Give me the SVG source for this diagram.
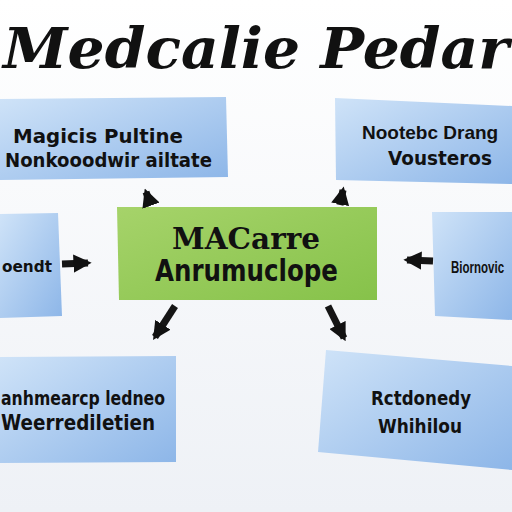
<svg xmlns="http://www.w3.org/2000/svg" width="512" height="512" viewBox="0 0 512 512">
<defs>
<linearGradient id="bg" x1="0" y1="0" x2="0" y2="1"><stop offset="0" stop-color="#ffffff"/><stop offset="1" stop-color="#eef1f6"/></linearGradient>
<linearGradient id="blue" x1="0" y1="0" x2="1" y2="1"><stop offset="0" stop-color="#cfe3f8"/><stop offset="1" stop-color="#8db6e8"/></linearGradient>
<linearGradient id="green" x1="0" y1="0" x2="1" y2="1"><stop offset="0" stop-color="#a6d36a"/><stop offset="1" stop-color="#86c24a"/></linearGradient>
<marker id="ah" viewBox="0 0 10 10" refX="8" refY="5" markerWidth="2.6" markerHeight="2.6" orient="auto" markerUnits="strokeWidth"><path d="M0,0 L10,5 L0,10 z" fill="#111"/></marker>
<style>
.box{fill:url(#blue);}
.t{font-family:"DejaVu Sans","Liberation Sans",sans-serif;font-weight:bold;fill:#111;}
.l{font-family:"Liberation Sans",Arial,sans-serif;font-weight:bold;fill:#111;}
.a{stroke:#151515;stroke-width:7;fill:none;marker-end:url(#ah);stroke-linecap:butt;}
</style>
</defs>
<rect width="512" height="512" fill="url(#bg)"/>
<text x="3" y="68" font-family="DejaVu Serif" font-style="italic" font-weight="bold" font-size="56" fill="#111" textLength="506" lengthAdjust="spacingAndGlyphs">Medcalie Pedar</text>
<g id="n-topleft"><polygon class="box" points="0,99 226,97 228,177 0,180"/>
<text class="t" x="13" y="143" font-size="20" textLength="170" lengthAdjust="spacingAndGlyphs">Magicis Pultine</text>
<text class="t" x="5" y="167" font-size="20" textLength="207" lengthAdjust="spacingAndGlyphs">Nonkooodwir ailtate</text></g>
<g id="n-topright"><polygon class="box" points="335,98 512,106 512,184 336,180"/>
<text class="l" x="362" y="139" font-size="19">Nootebc Drang</text>
<text class="t" x="388" y="165" font-size="20" textLength="104" lengthAdjust="spacingAndGlyphs">Vousteros</text></g>
<g id="n-center"><polygon points="117,207 377,207 377,300 119,300" fill="url(#green)"/>
<text x="172" y="249" font-family="DejaVu Serif" font-weight="bold" font-size="30" fill="#111" textLength="148" lengthAdjust="spacingAndGlyphs">MACarre</text>
<text class="t" x="155" y="281" font-size="30" textLength="183" lengthAdjust="spacingAndGlyphs">Anrumuclope</text></g>
<g id="n-left"><polygon class="box" points="0,214 58,213 62,316 0,318"/>
<text class="t" x="2" y="272" font-size="16" textLength="50" lengthAdjust="spacingAndGlyphs">oendt</text></g>
<g id="n-right"><polygon class="box" points="432,212 512,212 512,320 435,316"/>
<text class="l" transform="translate(451,273) scale(0.72,1)" font-size="16">Biornovic</text></g>
<g id="n-botleft"><polygon class="box" points="0,357 176,356 176,462 0,463"/>
<text class="t" x="1" y="405" font-size="20" textLength="164" lengthAdjust="spacingAndGlyphs">anhmearcp ledneo</text>
<text class="t" x="1" y="430" font-size="22" textLength="154" lengthAdjust="spacingAndGlyphs">Weerrediletien</text></g>
<g id="n-botright"><polygon class="box" points="326,350 512,366 512,470 318,452"/>
<text class="t" x="371" y="405" font-size="20" textLength="100" lengthAdjust="spacingAndGlyphs">Rctdonedy</text>
<text class="t" x="378" y="433" font-size="20" textLength="84" lengthAdjust="spacingAndGlyphs">Whihilou</text></g>
<g id="connectors">
<line class="a" x1="150" y1="203" x2="146" y2="192"/>
<line class="a" x1="340" y1="205" x2="343" y2="190"/>
<line class="a" x1="62" y1="264" x2="88" y2="263"/>
<line class="a" x1="433" y1="261" x2="407" y2="260"/>
<line class="a" x1="175" y1="306" x2="155" y2="337"/>
<line class="a" x1="328" y1="306" x2="344" y2="338"/>
</g>
</svg>
